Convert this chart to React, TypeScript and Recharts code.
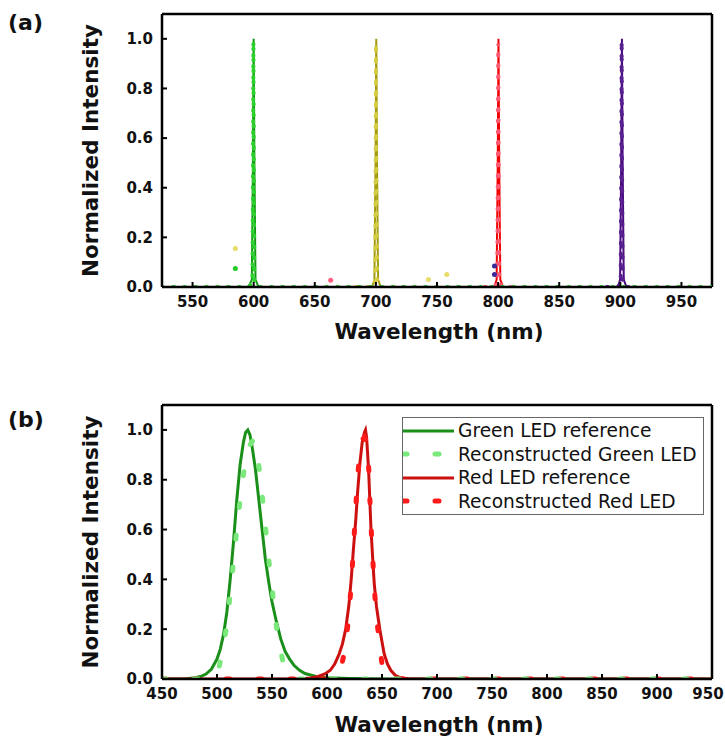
import React from "react";
import { ComposedChart, Line, Scatter, XAxis, YAxis, ReferenceLine, Legend } from "recharts";

const FONT = "'DejaVu Sans', sans-serif";

// ---------- panel (a): single-wavelength lines ----------
const A_X_TICKS = [550, 600, 650, 700, 750, 800, 850, 900, 950];
const Y_TICKS = [0, 0.2, 0.4, 0.6, 0.8, 1.0];

const A_GREEN_REF_WL = [525, 596, 598.5, 599.4, 600, 600.6, 601.5, 604, 975];
const A_GREEN_REF = [0, 0, 0.03, 0.5, 1.0, 0.5, 0.03, 0, 0];
const A_GREEN_REC_WL = [525, 596, 599, 599.5, 599.8, 600.1, 600.6, 603, 975];
const A_GREEN_REC = [0, 0, 0.02, 0.5, 0.99, 0.5, 0.02, 0, 0];

const A_YELLOW_REF_WL = [682, 697, 698.8, 699.7, 700.3, 700.9, 701.8, 704, 718];
const A_YELLOW_REF = [0, 0, 0.03, 0.5, 1.0, 0.5, 0.03, 0, 0];
const A_YELLOW_REC_WL = [684, 697, 699.3, 699.8, 700.1, 700.4, 700.9, 703, 716];
const A_YELLOW_REC = [0, 0, 0.02, 0.5, 0.98, 0.5, 0.02, 0, 0];

const A_RED_REF_WL = [787, 797, 798.8, 799.7, 800.3, 800.9, 801.8, 804, 812];
const A_RED_REF = [0, 0, 0.03, 0.5, 1.0, 0.5, 0.03, 0, 0];
const A_RED_REC_WL = [789, 797, 799.3, 799.8, 800.1, 800.4, 800.9, 803, 810];
const A_RED_REC = [0, 0, 0.02, 0.5, 0.98, 0.5, 0.02, 0, 0];

const A_PURPLE_REF_WL = [887, 898, 899.8, 900.7, 901.3, 901.9, 902.8, 905, 908];
const A_PURPLE_REF = [0, 0, 0.03, 0.5, 1.0, 0.5, 0.03, 0, 0];
const A_PURPLE_REC_WL = [889, 898, 900.3, 900.8, 901.1, 901.4, 901.9, 904, 907];
const A_PURPLE_REC = [0, 0, 0.02, 0.5, 0.99, 0.5, 0.02, 0, 0];

const A_STRAY_YELLOW_WL = [585, 743, 758];
const A_STRAY_YELLOW = [0.155, 0.03, 0.05];
const A_STRAY_GREEN_WL = [585];
const A_STRAY_GREEN = [0.075];
const A_STRAY_RED_WL = [663];
const A_STRAY_RED = [0.027];
const A_STRAY_PURPLE_WL = [797, 797];
const A_STRAY_PURPLE = [0.05, 0.085];

// ---------- panel (b): LED spectra ----------
const B_X_TICKS = [450, 500, 550, 600, 650, 700, 750, 800, 850, 900, 950];

const B_GREEN_REF_WL = [450, 470, 480, 485, 490, 495, 500, 503, 506, 509, 512, 515, 518, 521, 524, 526, 528, 530, 532, 535, 538, 541, 544, 547, 550, 554, 558, 562, 566, 570, 575, 580, 590, 600, 620, 650, 700, 950];
const B_GREEN_REF = [0, 0, 0.005, 0.01, 0.02, 0.04, 0.08, 0.12, 0.18, 0.27, 0.4, 0.55, 0.72, 0.86, 0.95, 0.99, 1.0, 0.98, 0.93, 0.84, 0.72, 0.6, 0.48, 0.39, 0.31, 0.23, 0.16, 0.11, 0.08, 0.055, 0.035, 0.022, 0.01, 0.005, 0.002, 0, 0, 0];

const B_GREEN_REC_WL = [450, 490, 497, 502, 506, 509, 512, 515, 518, 521, 524, 527, 530, 533, 536, 539, 542, 545, 548, 551, 554, 557, 560, 563, 567, 572, 650, 950];
const B_GREEN_REC = [0, 0, 0.01, 0.05, 0.13, 0.22, 0.34, 0.47, 0.6, 0.72, 0.82, 0.9, 0.94, 0.96, 0.93, 0.82, 0.7, 0.57, 0.44, 0.33, 0.21, 0.13, 0.07, 0.03, 0.01, 0, 0, 0];

const B_RED_REF_WL = [450, 575, 585, 592, 598, 603, 607, 611, 614, 617, 620, 622, 624, 626, 628, 630, 632, 634, 635, 636, 637, 638, 640, 642, 643, 645, 648, 650, 652, 655, 658, 662, 667, 675, 700, 950];
const B_RED_REF = [0, 0, 0.004, 0.01, 0.02, 0.035, 0.06, 0.1, 0.14, 0.2, 0.3, 0.4, 0.52, 0.63, 0.76, 0.87, 0.95, 0.99, 1.0, 0.97, 0.9, 0.82, 0.6, 0.45, 0.38, 0.29, 0.2, 0.15, 0.1, 0.06, 0.035, 0.015, 0.005, 0, 0, 0];

const B_RED_REC_WL = [450, 600, 608, 612, 615, 618, 620, 622, 624, 626, 628, 630, 632, 634, 636, 638, 639, 640, 641, 642, 644, 646, 648, 650, 652, 655, 660, 950];
const B_RED_REC = [0, 0, 0.005, 0.03, 0.09, 0.18, 0.26, 0.38, 0.52, 0.68, 0.82, 0.92, 0.96, 0.97, 0.95, 0.84, 0.72, 0.62, 0.53, 0.45, 0.3, 0.21, 0.13, 0.06, 0.03, 0.01, 0, 0];

const LEGEND_LABELS = ["Green LED reference", "Reconstructed Green LED", "Red LED reference", "Reconstructed Red LED"];

const pts = (wl: number[], v: number[]) => wl.map((x, i) => ({ x, y: v[i] }));

const tickStyle = { fontFamily: FONT, fontWeight: 700, fontSize: 15, fill: "#111" };
const axisLine = { stroke: "#000", strokeWidth: 2.5 };
const tickLine = { stroke: "#000", strokeWidth: 2 };
const titleStyle = { fontFamily: FONT, fontWeight: 700, fontSize: 21.5, fill: "#111" };
const panelTag = { position: "absolute" as const, left: 8, fontFamily: FONT, fontWeight: 700, fontSize: 22, lineHeight: "24px", color: "#111" };

const LEGEND_STYLES = [
  { stroke: "#1a8f1a", width: 3, dash: undefined },
  { stroke: "#7be87b", width: 5, dash: "4 28" },
  { stroke: "#cc1010", width: 3, dash: undefined },
  { stroke: "#ff1a1a", width: 5, dash: "4 28" },
];

const dotShape = (r: number, fill: string) => (p: any) => <circle cx={p.cx} cy={p.cy} r={r} fill={fill} />;

// bottom tick that keeps the last label inside the page
const xTick = (p: any) => (
  <text x={Math.min(p.x, 708)} y={p.y} dy="0.71em" textAnchor="middle" style={tickStyle}>
    {p.payload.value}
  </text>
);

const yTitle = (props: any) => {
  const vb = props.viewBox;
  const cx = 98;
  const cy = vb.y + vb.height / 2;
  return (
    <text x={cx} y={cy} transform={`rotate(-90 ${cx} ${cy})`} textAnchor="middle" style={titleStyle}>
      Normalized Intensity
    </text>
  );
};

const xTitle = (baseline: number) => (props: any) => {
  const vb = props.viewBox;
  return (
    <text x={vb.x + vb.width / 2 + 2} y={baseline} textAnchor="middle" style={titleStyle}>
      Wavelength (nm)
    </text>
  );
};

const renderLegend = () => (
  <div style={{ width: 300, height: 95, border: "1.5px solid #666", background: "#fff", paddingTop: 1, fontFamily: FONT, fontSize: 18.6, color: "#111" }}>
    {LEGEND_LABELS.map((label, i) => (
      <div key={label} style={{ display: "flex", alignItems: "center", height: 23.5 }}>
        <svg width={52} height={10}>
          <line x1={0} x2={51} y1={5} y2={5} stroke={LEGEND_STYLES[i].stroke} strokeWidth={LEGEND_STYLES[i].width}
            strokeDasharray={LEGEND_STYLES[i].dash} strokeLinecap={LEGEND_STYLES[i].dash ? "round" : "butt"} />
        </svg>
        <span style={{ marginLeft: 3, whiteSpace: "nowrap" }}>{label}</span>
      </div>
    ))}
  </div>
);

const refLine = (data: any[], stroke: string, w = 2) => (
  <Line data={data} dataKey="y" type="linear" stroke={stroke} strokeWidth={w} dot={false} activeDot={false} isAnimationActive={false} />
);
const recLine = (data: any[], stroke: string, w: number, dash: string) => (
  <Line data={data} dataKey="y" type="linear" stroke={stroke} strokeWidth={w} strokeDasharray={dash} strokeLinecap="round" dot={false} activeDot={false} isAnimationActive={false} />
);

export default function App() {
  return (
    <div style={{ position: "absolute", left: 0, top: 0, width: 725, height: 742, background: "#fff" }}>
      <div style={{ ...panelTag, top: 11 }}>(a)</div>
      <div style={{ ...panelTag, top: 408 }}>(b)</div>

      <div style={{ position: "absolute", left: 0, top: 0 }}>
        <ComposedChart width={725} height={350} margin={{ top: 14, right: 13, bottom: 0, left: 0 }}>
          <XAxis dataKey="x" type="number" domain={[525, 975]} ticks={A_X_TICKS} interval={0} allowDataOverflow
            height={63} tickSize={-5} tickMargin={14} tick={tickStyle} axisLine={axisLine} tickLine={tickLine}
            label={{ content: xTitle(339) }} />
          <YAxis type="number" domain={[0, 1.1]} ticks={Y_TICKS} interval={0} allowDataOverflow width={162}
            tickSize={-5} tickMargin={14} tick={tickStyle} axisLine={axisLine} tickLine={tickLine}
            tickFormatter={(v: number) => v.toFixed(1)} label={{ content: yTitle }} />
          <ReferenceLine y={1.1} stroke="#000" strokeWidth={2.5} />
          <ReferenceLine x={975} stroke="#000" strokeWidth={2.5} />
          {refLine(pts(A_YELLOW_REF_WL, A_YELLOW_REF), "#a39c0c")}
          {recLine(pts(A_YELLOW_REC_WL, A_YELLOW_REC), "#d4cc44", 4, "1 10")}
          {refLine(pts(A_RED_REF_WL, A_RED_REF), "#f00000")}
          {recLine(pts(A_RED_REC_WL, A_RED_REC), "#ff5a72", 4, "1 10")}
          {refLine(pts(A_PURPLE_REF_WL, A_PURPLE_REF), "#4a0a80")}
          {recLine(pts(A_PURPLE_REC_WL, A_PURPLE_REC), "#58208f", 4, "1 10")}
          {refLine(pts(A_GREEN_REF_WL, A_GREEN_REF), "#119a11")}
          {recLine(pts(A_GREEN_REC_WL, A_GREEN_REC), "#2ed02e", 4, "1 10")}
          <Scatter data={pts(A_STRAY_YELLOW_WL, A_STRAY_YELLOW)} dataKey="y" isAnimationActive={false} shape={dotShape(2.5, "#e6de66")} />
          <Scatter data={pts(A_STRAY_GREEN_WL, A_STRAY_GREEN)} dataKey="y" isAnimationActive={false} shape={dotShape(2.5, "#22cc22")} />
          <Scatter data={pts(A_STRAY_RED_WL, A_STRAY_RED)} dataKey="y" isAnimationActive={false} shape={dotShape(2.5, "#ff6080")} />
          <Scatter data={pts(A_STRAY_PURPLE_WL, A_STRAY_PURPLE)} dataKey="y" isAnimationActive={false} shape={dotShape(2.5, "#3a2a9a")} />
        </ComposedChart>
      </div>

      <div style={{ position: "absolute", left: 0, top: 370 }}>
        <ComposedChart width={725} height={372} margin={{ top: 35, right: 13, bottom: 0, left: 0 }}>
          <XAxis dataKey="x" type="number" domain={[450, 950]} ticks={B_X_TICKS} interval={0} allowDataOverflow
            height={63} tickSize={-5} tickMargin={14} tick={xTick} axisLine={axisLine} tickLine={tickLine}
            label={{ content: xTitle(362) }} />
          <YAxis type="number" domain={[0, 1.1]} ticks={Y_TICKS} interval={0} allowDataOverflow width={162}
            tickSize={-5} tickMargin={14} tick={tickStyle} axisLine={axisLine} tickLine={tickLine}
            tickFormatter={(v: number) => v.toFixed(1)} label={{ content: yTitle }} />
          <ReferenceLine y={1.1} stroke="#000" strokeWidth={2.5} />
          <ReferenceLine x={950} stroke="#000" strokeWidth={2.5} />
          {refLine(pts(B_GREEN_REF_WL, B_GREEN_REF), LEGEND_STYLES[0].stroke, 3)}
          {refLine(pts(B_RED_REF_WL, B_RED_REF), LEGEND_STYLES[2].stroke, 3)}
          {recLine(pts(B_RED_REC_WL, B_RED_REC), LEGEND_STYLES[3].stroke, 5, "4 28")}
          {recLine(pts(B_GREEN_REC_WL, B_GREEN_REC), LEGEND_STYLES[1].stroke, 5, "4 28")}
          <Legend layout="vertical" align="center" verticalAlign="middle" content={renderLegend}
            wrapperStyle={{ left: 402, top: 47, width: 302, height: 97 }} />
        </ComposedChart>
      </div>
    </div>
  );
}
